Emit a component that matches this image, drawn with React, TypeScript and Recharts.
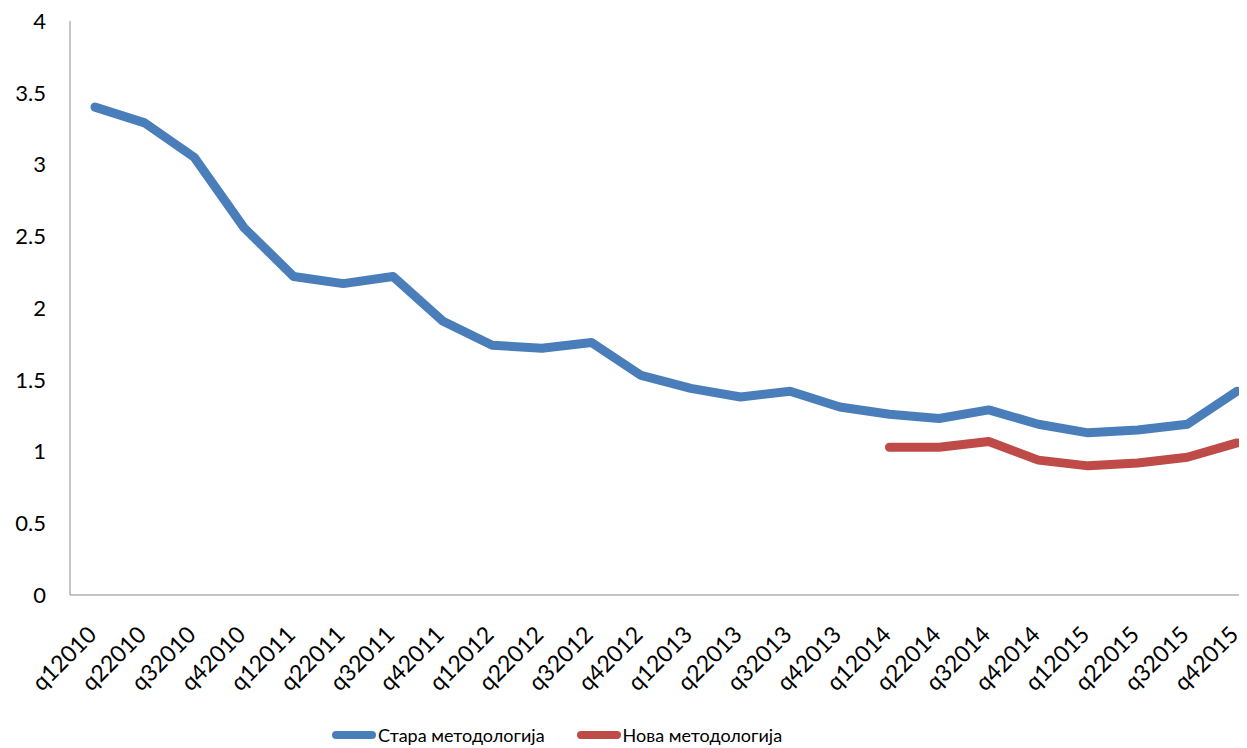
import { LineChart, Line, XAxis, YAxis } from 'recharts';

const quarters = [
  'q12010', 'q22010', 'q32010', 'q42010',
  'q12011', 'q22011', 'q32011', 'q42011',
  'q12012', 'q22012', 'q32012', 'q42012',
  'q12013', 'q22013', 'q32013', 'q42013',
  'q12014', 'q22014', 'q32014', 'q42014',
  'q12015', 'q22015', 'q32015', 'q42015',
];

const oldMethod = [
  3.40, 3.29, 3.05, 2.56,
  2.22, 2.17, 2.22, 1.91,
  1.74, 1.72, 1.76, 1.53,
  1.44, 1.38, 1.42, 1.31,
  1.26, 1.23, 1.29, 1.19,
  1.13, 1.15, 1.19, 1.42,
];

const newMethod = [
  null, null, null, null,
  null, null, null, null,
  null, null, null, null,
  null, null, null, null,
  1.03, 1.03, 1.07, 0.94,
  0.90, 0.92, 0.96, 1.06,
];

const yTicks = [0, 0.5, 1, 1.5, 2, 2.5, 3, 3.5, 4];

const seriesNames = ['Стара методологија', 'Нова методологија'];
const seriesColors = ['#4a7ebb', '#be4b48'];

const data = quarters.map((q, i) => ({
  q,
  old: oldMethod[i],
  neu: newMethod[i],
}));

const FONT = 'Lato, "Open Sans", sans-serif';

function XTick(props: any) {
  const { x, y, payload } = props;
  const ax = x + 3;
  const ay = y + 33;
  return (
    <text
      x={ax}
      y={ay}
      transform={`rotate(-45, ${ax}, ${ay})`}
      textAnchor="end"
      fontSize={23}
      fontFamily={FONT}
      fill="#000"
    >
      {payload.value}
    </text>
  );
}

export default function App() {
  return (
    <div style={{ width: 1239, height: 740, fontFamily: FONT, position: 'relative' }}>
      <LineChart
        width={1239}
        height={740}
        data={data}
        margin={{ top: 13, right: 4, left: 0, bottom: 0 }}
      >
        <XAxis
          dataKey="q"
          interval={0}
          padding={{ left: 25, right: 6 }}
          tickLine={false}
          stroke="#8c8c8c"
          tick={<XTick />}
          height={153}
        />
        <YAxis
          domain={[0, 4]}
          ticks={yTicks}
          width={62}
          tickLine={false}
          tickMargin={18}
          stroke="#8c8c8c"
          tick={{ fill: '#000', fontSize: 22, fontFamily: FONT }}
        />
        <Line
          dataKey="old"
          name={seriesNames[0]}
          stroke={seriesColors[0]}
          strokeWidth={9}
          strokeLinecap="round"
          strokeLinejoin="round"
          dot={false}
          activeDot={false}
          isAnimationActive={false}
        />
        <Line
          dataKey="neu"
          name={seriesNames[1]}
          stroke={seriesColors[1]}
          strokeWidth={9}
          strokeLinecap="round"
          strokeLinejoin="round"
          dot={false}
          activeDot={false}
          isAnimationActive={false}
        />
      </LineChart>
      <div
        style={{
          position: 'absolute',
          left: 324,
          top: 715,
          height: 24,
          display: 'flex',
          alignItems: 'center',
          gap: 32,
          fontSize: 18,
          color: '#000',
          whiteSpace: 'nowrap',
        }}
      >
        {seriesNames.map((name, i) => (
          <div key={name} style={{ display: 'flex', alignItems: 'center' }}>
            <span
              style={{
                display: 'inline-block',
                width: 44,
                height: 8,
                borderRadius: 4,
                background: seriesColors[i],
                marginRight: 2,
              }}
            />
            <span>{name}</span>
          </div>
        ))}
      </div>
    </div>
  );
}
